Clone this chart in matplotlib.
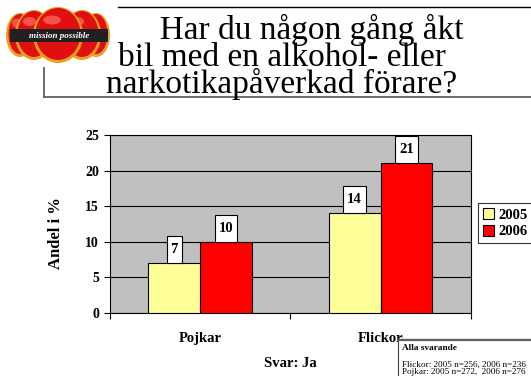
import matplotlib
matplotlib.use("Agg")
import matplotlib.pyplot as plt
from matplotlib.patches import Rectangle, Ellipse
import numpy as np

# --- data ---
categories = ["Pojkar", "Flickor"]
years = ["2005", "2006"]
values_2005 = [7, 14]
values_2006 = [10, 21]
y_ticks = [0, 5, 10, 15, 20, 25]
title_lines = ["       Har du någon gång åkt", "bil med en alkohol- eller", "narkotikapåverkad förare?"]
note_lines = ["Alla svarande", "Flickor: 2005 n=256, 2006 n=236", "Pojkar: 2005 n=272,  2006 n=276"]

SERIF = ["Liberation Serif", "DejaVu Serif"]
YELLOW = "#FFFF99"
RED = "#FF0000"
GRAY = "#C0C0C0"

W, H = 531, 376
fig = plt.figure(figsize=(W / 100, H / 100), dpi=100)
fig.patch.set_facecolor("white")

def fx(px):
    return px / W

def fy(py):
    return 1 - py / H

# --- header: logo, rules and title ---
logo = fig.add_axes([fx(6), fy(64), fx(104), (58) / H])
logo.set_xlim(0, 104)
logo.set_ylim(0, 58)
logo.axis("off")
for cx, w, hgt, z in [(14, 28, 44, 1), (90, 28, 44, 1), (28, 38, 50, 2), (76, 38, 50, 2), (52, 50, 56, 3)]:
    logo.add_patch(Ellipse((cx, 29), w, hgt, facecolor="#E8A020", edgecolor="none", zorder=z))
    logo.add_patch(Ellipse((cx, 30), w - 5, hgt - 4, facecolor="#E01010", edgecolor="none", zorder=z))
    logo.add_patch(Ellipse((cx - w * 0.12, 30 + hgt * 0.25), w * 0.35, 9, facecolor="#FF7060",
                           edgecolor="none", zorder=z, alpha=0.7))
logo.add_patch(Rectangle((4, 22), 98, 13, facecolor="#202020", edgecolor="none", zorder=5))
logo.text(53, 28.5, "mission possible", color="white", fontsize=6.5, fontweight="bold",
          fontstyle="italic", family=SERIF, ha="center", va="center", zorder=6)

fig.add_artist(plt.Line2D([fx(118), fx(531)], [fy(6.5), fy(6.5)], color="black", lw=1.0))
fig.add_artist(plt.Line2D([fx(44), fx(531)], [fy(97), fy(97)], color="#606060", lw=1.3))
fig.add_artist(plt.Line2D([fx(44), fx(44)], [fy(68), fy(97)], color="#606060", lw=1.3))

fig.text(fx(282), fy(93.5), "\n".join(title_lines), fontsize=24, family=SERIF, ha="center",
         va="baseline", multialignment="center", linespacing=0.83, color="black")

# --- bar chart ---
ax = fig.add_axes([fx(110), fy(313), fx(470.7 - 110), 178 / H])
ax.set_facecolor(GRAY)
x = np.arange(len(categories))
bw = 0.287
bars05 = ax.bar(x - bw / 2, values_2005, bw, color=YELLOW, edgecolor="black", linewidth=0.8, zorder=3, label=years[0])
bars06 = ax.bar(x + bw / 2, values_2006, bw, color=RED, edgecolor="black", linewidth=0.8, zorder=3, label=years[1])

ax.set_xlim(-0.5, 1.5)
ax.set_ylim(0, 25)
ax.set_yticks(y_ticks)
ax.set_yticklabels([str(t) for t in y_ticks], fontsize=10, fontweight="bold", family=SERIF)
ax.yaxis.grid(True, color="black", linewidth=0.8, zorder=1)
ax.set_axisbelow(True)
ax.set_xticks(x)
ax.set_xticklabels(categories, fontsize=10.5, fontweight="bold", family=SERIF)
ax.tick_params(axis="x", length=0, pad=14)
ax.set_xticks([-0.5, 0.5, 1.5], minor=True)
ax.tick_params(axis="x", which="minor", length=4, width=0.8)
ax.tick_params(axis="y", length=4, width=0.8, pad=4)
for s in ax.spines.values():
    s.set_color("black")
    s.set_linewidth(0.8)

ax.set_ylabel("Andel i %", fontsize=12, fontweight="bold", family=SERIF)
ax.yaxis.set_label_coords(-46 / 360.7, 0.45)
ax.set_xlabel("Svar: Ja", fontsize=10.5, fontweight="bold", family=SERIF, labelpad=8)

# value labels in white boxes sitting on the bars
box_h = 3.8
for bars, vals in [(bars05, values_2005), (bars06, values_2006)]:
    for b, v in zip(bars, vals):
        cx = b.get_x() + b.get_width() / 2
        bwid = 0.082 if v < 10 else 0.125
        ax.add_patch(Rectangle((cx - bwid / 2, v), bwid, box_h, facecolor="white",
                               edgecolor="black", linewidth=0.8, zorder=4, clip_on=False))
        ax.text(cx, v + box_h / 2, str(v), fontsize=10.5, fontweight="bold", family=SERIF,
                ha="center", va="center", zorder=5)

leg = ax.legend(loc="upper left", bbox_to_anchor=((477.7 - 110) / (470.7 - 110), (313 - 203) / 178),
                prop={"family": SERIF, "weight": "bold", "size": 10.5},
                frameon=True, fancybox=False, edgecolor="black", handlelength=0.8, handleheight=0.8,
                handletextpad=0.3, borderpad=0.35, labelspacing=0.2, borderaxespad=0)
leg.get_frame().set_linewidth(0.8)

# --- respondent note ---
fig.add_artist(Rectangle((fx(398), fy(380)), fx(140), (380 - 339) / H, facecolor="white",
                         edgecolor="#404040", linewidth=0.8, zorder=10))
fig.add_artist(plt.Line2D([fx(398), fx(531)], [fy(339.5), fy(339.5)], color="#606060", lw=1.6, zorder=11))
fig.text(fx(402), fy(348), note_lines[0], fontsize=6.7, fontweight="bold", family=SERIF, va="center", zorder=12)
fig.text(fx(402), fy(364.5), note_lines[1], fontsize=6.6, family=SERIF, va="center", zorder=12)
fig.text(fx(402), fy(372), note_lines[2], fontsize=6.6, family=SERIF, va="center", zorder=12)

fig.savefig("out.png", dpi=100, facecolor="white")
